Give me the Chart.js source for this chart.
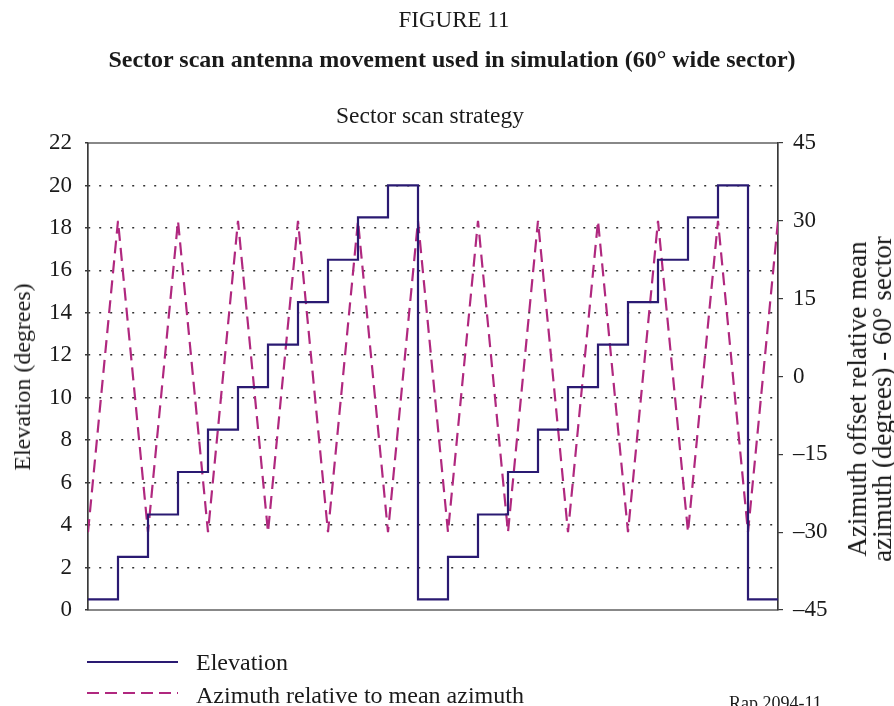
<!DOCTYPE html>
<html>
<head>
<meta charset="utf-8">
<script src="https://cdn.jsdelivr.net/npm/chart.js@4.4.1/dist/chart.umd.min.js"></script>
<style>
  body { margin: 0; background: #fff; font-family: "Liberation Serif", "DejaVu Serif", serif; color: #1a1a1a; }
  #wrap { position: relative; width: 894px; height: 706px; overflow: hidden; }
  #wrap canvas { position: absolute; left: 0; top: 0; }
  .txt { position: absolute; white-space: nowrap; line-height: 1; }
  .center { transform: translateX(-50%); }
  .rot { transform: translate(-50%, -50%) rotate(-90deg); text-align: center; }
  .sample { position: absolute; width: 91px; height: 2px; }
</style>
</head>
<body>
<div id="wrap">
  <canvas id="scanChart" width="894" height="706"></canvas>

  <div class="txt center" style="left:454px; top:8px; font-size:23px;">FIGURE 11</div>
  <div class="txt center" style="left:452px; top:47px; font-size:24px; font-weight:bold;">Sector scan antenna movement used in simulation (60° wide sector)</div>
  <div class="txt center" style="left:430px; top:104px; font-size:23.5px;">Sector scan strategy</div>

  <div class="txt rot" style="left:22px; top:377px; font-size:24px;">Elevation (degrees)</div>
  <div class="txt rot" style="left:870px; top:399px; font-size:27px; line-height:25px;">Azimuth offset relative mean<br>azimuth (degrees) - 60° sector</div>

  <div class="sample" style="left:87px; top:661px; background:#2a1a72;"></div>
  <div class="txt" style="left:196px; top:650px; font-size:24px;">Elevation</div>
  <div class="sample" style="left:87px; top:692px; background:repeating-linear-gradient(90deg, #b0287f 0 12px, transparent 12px 18px);"></div>
  <div class="txt" style="left:196px; top:683px; font-size:24px;">Azimuth relative to mean azimuth</div>
  <div class="txt" style="left:729px; top:694px; font-size:18px;">Rap 2094-11</div>
</div>

<script>
// time steps of the scan (one dwell per step)
const steps = [0, 1, 2, 3, 4, 5, 6, 7, 8, 9, 10, 11, 12, 13, 14, 15, 16, 17, 18, 19, 20, 21, 22, 23];
// elevation held during each step (degrees)
const elevation = [0.5, 2.5, 4.5, 6.5, 8.5, 10.5, 12.5, 14.5, 16.5, 18.5, 20, 0.5,
                   2.5, 4.5, 6.5, 8.5, 10.5, 12.5, 14.5, 16.5, 18.5, 20, 0.5, 0.5];
// azimuth offset from mean azimuth at each step (degrees)
const azimuth = [-30, 30, -30, 30, -30, 30, -30, 30, -30, 30, -30, 30,
                 -30, 30, -30, 30, -30, 30, -30, 30, -30, 30, -30, 30];

const elevationTicks = [0, 2, 4, 6, 8, 10, 12, 14, 16, 18, 20, 22];
const azimuthTicks = [-45, -30, -15, 0, 15, 30, 45];

const tickFont = { family: '"Liberation Serif", serif', size: 23 };

// box round the plot area
const frame = {
  id: 'frame',
  beforeDatasetsDraw(chart) {
    const a = chart.chartArea;
    const ctx = chart.ctx;
    ctx.save();
    ctx.strokeStyle = '#3a3a3a';
    ctx.lineWidth = 1.2;
    ctx.strokeRect(a.left, a.top, a.right - a.left, a.bottom - a.top);
    ctx.restore();
  }
};

new Chart(document.getElementById('scanChart'), {
  type: 'line',
  data: {
    datasets: [
      {
        label: 'Elevation',
        data: steps.map((s, i) => ({ x: s, y: elevation[i] })),
        yAxisID: 'y',
        stepped: true,
        borderColor: '#2a1a72',
        borderWidth: 2.2,
        pointRadius: 0,
        fill: false
      },
      {
        label: 'Azimuth relative to mean azimuth',
        data: steps.map((s, i) => ({ x: s, y: azimuth[i] })),
        yAxisID: 'y2',
        borderColor: '#b0287f',
        borderWidth: 2.2,
        borderDash: [13, 7],
        pointRadius: 0,
        tension: 0,
        fill: false
      }
    ]
  },
  options: {
    responsive: false,
    animation: false,
    layout: { padding: { top: 143, bottom: 96, left: 0, right: 0 } },
    plugins: {
      legend: { display: false },
      tooltip: { enabled: false }
    },
    scales: {
      x: {
        type: 'linear',
        min: steps[0],
        max: steps[steps.length - 1],
        display: false
      },
      y: {
        position: 'left',
        min: 0,
        max: 22,
        afterFit: s => { s.width = 88; },
        afterBuildTicks: s => { s.ticks = elevationTicks.map(v => ({ value: v })); },
        ticks: { font: tickFont, color: '#1a1a1a', padding: 13 },
        grid: {
          drawTicks: true,
          tickLength: 3,
          tickColor: '#3a3a3a',
          color: c => (c.tick && c.tick.value > 0 && c.tick.value < 22) ? '#333' : 'rgba(0,0,0,0)',
          lineWidth: 1.6
        },
        // dash here applies to the grid lines (dotted)
        border: { display: true, color: '#3a3a3a', width: 1.2, dash: [2, 9] }
      },
      y2: {
        position: 'right',
        min: -45,
        max: 45,
        afterFit: s => { s.width = 116; },
        afterBuildTicks: s => { s.ticks = azimuthTicks.map(v => ({ value: v })); },
        ticks: {
          font: tickFont,
          color: '#1a1a1a',
          padding: 10,
          callback: v => String(v).replace('-', '\u2013')
        },
        grid: { drawOnChartArea: false, drawTicks: true, tickLength: 5, color: '#3a3a3a', lineWidth: 1.2 },
        border: { display: true, color: '#3a3a3a', width: 1.2 }
      }
    }
  },
  plugins: [frame]
});
</script>
</body>
</html>
